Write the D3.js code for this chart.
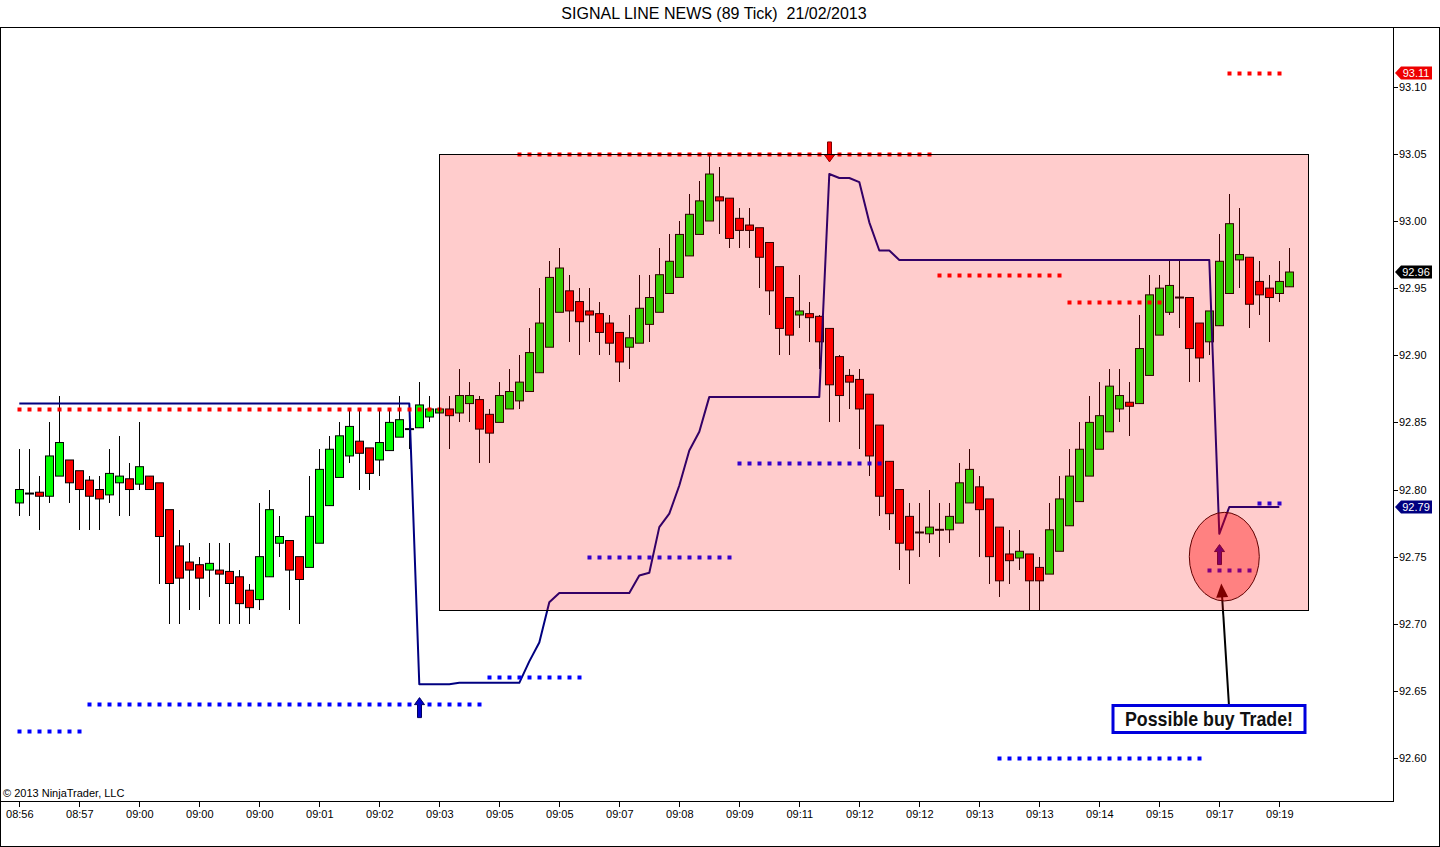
<!DOCTYPE html>
<html>
<head>
<meta charset="utf-8">
<title>SIGNAL LINE NEWS (89 Tick)</title>
<script src="https://d3js.org/d3.v7.min.js"></script>
<style>
  body { margin: 0; background: #fff; }
  svg text { font-family: Arial, "Liberation Sans", sans-serif; }
  .axis text { font-size: 11px; fill: #000; }
  .axis line, .axis path { stroke: #000; shape-rendering: crispEdges; }
</style>
</head>
<body>
<div id="chart"></div>
<script>
// time labels, one every 6 bars
const timeLabels = ["08:56","08:57","09:00","09:00","09:00","09:01","09:02","09:03","09:05","09:05","09:07",
  "09:08","09:09","09:11","09:12","09:12","09:13","09:13","09:14","09:15","09:17","09:19"];
const labelEvery = 6;

const priceTicks = [92.60, 92.65, 92.70, 92.75, 92.80, 92.85, 92.90, 92.95, 93.00, 93.05, 93.10];

// 89 tick bars, OHLC
const opens = [
  92.79, 92.797, 92.798, 92.795, 92.81, 92.822, 92.814, 92.807, 92.80, 92.796,
  92.805, 92.808, 92.804, 92.81, 92.805, 92.785, 92.758, 92.746, 92.744, 92.74,
  92.74, 92.739, 92.735, 92.725, 92.718, 92.735, 92.76, 92.762, 92.75, 92.742,
  92.76, 92.788, 92.809, 92.825, 92.836, 92.831, 92.822, 92.829, 92.839, 92.845,
  92.846, 92.854, 92.857, 92.86, 92.857, 92.864, 92.867, 92.856, 92.85, 92.86,
  92.866, 92.873, 92.887, 92.906, 92.932, 92.948, 92.94, 92.933, 92.931, 92.924,
  92.917, 92.906, 92.909, 92.923, 92.932, 92.946, 92.958, 92.974, 92.99, 93.00,
  93.018, 93.017, 93.002, 92.997, 92.995, 92.984, 92.966, 92.943, 92.93, 92.931,
  92.929, 92.92, 92.899, 92.885, 92.882, 92.871, 92.848, 92.821, 92.80, 92.78,
  92.768, 92.767, 92.77, 92.77, 92.775, 92.79, 92.802, 92.793, 92.772, 92.752,
  92.749, 92.752, 92.742, 92.737, 92.754, 92.773, 92.791, 92.81, 92.83, 92.843,
  92.86, 92.865, 92.864, 92.885, 92.915, 92.932, 92.943, 92.943, 92.924, 92.91,
  92.922, 92.946, 92.971, 92.973, 92.955, 92.95, 92.946, 92.951
];
const highs = [
  92.83, 92.83, 92.81, 92.85, 92.87, 92.822, 92.814, 92.81, 92.81, 92.83,
  92.84, 92.82, 92.85, 92.81, 92.805, 92.785, 92.77, 92.76, 92.75, 92.76,
  92.76, 92.76, 92.74, 92.73, 92.79, 92.80, 92.78, 92.762, 92.75, 92.81,
  92.83, 92.84, 92.85, 92.86, 92.86, 92.831, 92.86, 92.86, 92.87, 92.85,
  92.88, 92.87, 92.86, 92.87, 92.89, 92.88, 92.87, 92.86, 92.88, 92.89,
  92.90, 92.92, 92.95, 92.97, 92.98, 92.96, 92.95, 92.95, 92.94, 92.93,
  92.917, 92.93, 92.96, 92.96, 92.98, 92.99, 93.00, 93.02, 93.03, 93.05,
  93.04, 93.017, 93.01, 93.01, 92.995, 92.984, 92.966, 92.943, 92.96, 92.94,
  92.93, 92.92, 92.90, 92.89, 92.89, 92.871, 92.848, 92.821, 92.80, 92.79,
  92.79, 92.80, 92.79, 92.79, 92.82, 92.83, 92.81, 92.793, 92.772, 92.77,
  92.77, 92.752, 92.75, 92.79, 92.81, 92.83, 92.85, 92.87, 92.88, 92.89,
  92.89, 92.88, 92.93, 92.96, 92.96, 92.97, 92.97, 92.943, 92.924, 92.933,
  92.99, 93.02, 93.01, 92.973, 92.97, 92.96, 92.97, 92.98
];
const lows = [
  92.78, 92.78, 92.77, 92.79, 92.81, 92.79, 92.77, 92.77, 92.77, 92.79,
  92.78, 92.78, 92.80, 92.80, 92.73, 92.70, 92.70, 92.71, 92.71, 92.72,
  92.70, 92.70, 92.70, 92.70, 92.71, 92.735, 92.75, 92.71, 92.70, 92.742,
  92.76, 92.788, 92.809, 92.82, 92.80, 92.80, 92.81, 92.829, 92.839, 92.83,
  92.846, 92.85, 92.857, 92.83, 92.85, 92.85, 92.82, 92.82, 92.85, 92.86,
  92.86, 92.873, 92.887, 92.906, 92.932, 92.91, 92.90, 92.91, 92.90, 92.90,
  92.88, 92.89, 92.909, 92.91, 92.932, 92.946, 92.958, 92.974, 92.99, 93.00,
  92.99, 92.98, 92.98, 92.98, 92.95, 92.93, 92.90, 92.90, 92.92, 92.91,
  92.89, 92.85, 92.85, 92.86, 92.83, 92.81, 92.78, 92.77, 92.74, 92.73,
  92.75, 92.76, 92.75, 92.76, 92.775, 92.79, 92.75, 92.73, 92.72, 92.73,
  92.74, 92.71, 92.71, 92.737, 92.754, 92.773, 92.791, 92.81, 92.83, 92.843,
  92.85, 92.84, 92.864, 92.885, 92.915, 92.93, 92.92, 92.88, 92.88, 92.90,
  92.922, 92.946, 92.95, 92.92, 92.93, 92.91, 92.94, 92.951
];
const closes = [
  92.80, 92.797, 92.795, 92.825, 92.835, 92.805, 92.80, 92.795, 92.793, 92.812,
  92.81, 92.80, 92.817, 92.80, 92.765, 92.73, 92.734, 92.74, 92.734, 92.745,
  92.737, 92.73, 92.715, 92.712, 92.75, 92.785, 92.765, 92.74, 92.733, 92.78,
  92.815, 92.83, 92.84, 92.847, 92.827, 92.812, 92.835, 92.85, 92.852, 92.845,
  92.863, 92.86, 92.86, 92.855, 92.87, 92.87, 92.845, 92.842, 92.87, 92.873,
  92.88, 92.902, 92.924, 92.958, 92.965, 92.933, 92.925, 92.93, 92.917, 92.909,
  92.895, 92.913, 92.935, 92.943, 92.96, 92.97, 92.99, 93.005, 93.015, 93.035,
  93.015, 92.987, 92.993, 92.993, 92.973, 92.948, 92.92, 92.915, 92.933, 92.928,
  92.91, 92.878, 92.87, 92.88, 92.86, 92.825, 92.795, 92.782, 92.76, 92.755,
  92.768, 92.772, 92.77, 92.78, 92.805, 92.815, 92.785, 92.75, 92.732, 92.747,
  92.754, 92.732, 92.732, 92.77, 92.793, 92.81, 92.83, 92.85, 92.855, 92.877,
  92.87, 92.862, 92.905, 92.945, 92.95, 92.952, 92.943, 92.905, 92.898, 92.933,
  92.97, 92.998, 92.975, 92.938, 92.945, 92.943, 92.955, 92.962
];

// signal line, one value per bar (bars 0..126)
const signal = [
  92.864, 92.864, 92.864, 92.864, 92.864, 92.864, 92.864, 92.864, 92.864, 92.864,
  92.864, 92.864, 92.864, 92.864, 92.864, 92.864, 92.864, 92.864, 92.864, 92.864,
  92.864, 92.864, 92.864, 92.864, 92.864, 92.864, 92.864, 92.864, 92.864, 92.864,
  92.864, 92.864, 92.864, 92.864, 92.864, 92.864, 92.864, 92.864, 92.864, 92.864,
  92.655, 92.655, 92.655, 92.655, 92.656, 92.656, 92.656, 92.656, 92.656, 92.656,
  92.656, 92.672, 92.686, 92.716, 92.723, 92.723, 92.723, 92.723, 92.723, 92.723,
  92.723, 92.723, 92.736, 92.738, 92.772, 92.782, 92.803, 92.829, 92.843, 92.869,
  92.869, 92.869, 92.869, 92.869, 92.869, 92.869, 92.869, 92.869, 92.869, 92.869,
  92.869, 93.035, 93.032, 93.032, 93.029, 92.999, 92.978, 92.978, 92.971, 92.971,
  92.971, 92.971, 92.971, 92.971, 92.971, 92.971, 92.971, 92.971, 92.971, 92.971,
  92.971, 92.971, 92.971, 92.971, 92.971, 92.971, 92.971, 92.971, 92.971, 92.971,
  92.971, 92.971, 92.971, 92.971, 92.971, 92.971, 92.971, 92.971, 92.971, 92.971,
  92.767, 92.787, 92.787, 92.787, 92.787, 92.787, 92.787
];

// dotted levels: [first bar, last bar, price]
const resistanceLevels = [[0, 42, 92.86], [50, 91, 93.05], [92, 104, 92.96], [105, 114, 92.94], [121, 126, 93.11]];
const supportLevels = [[0, 6, 92.62], [7, 46, 92.64], [47, 56, 92.66], [57, 71, 92.75], [72, 86, 92.82],
  [98, 118, 92.60], [119, 123, 92.74], [124, 126, 92.79]];

// signal arrows: [bar, tip price]
const sellArrows = [[81, 93.044]];
const buyArrows = [[40, 92.645], [120, 92.759]];

// drawn objects, in bar / price units
const zone = {bar0: 42, bar1: 128.9, hi: 93.05, lo: 92.71};
const circle = {bar0: 117, bar1: 124, hi: 92.783, lo: 92.717};
const note = {text: "Possible buy Trade!", tailBar: 120.97, tailPrice: 92.639, tipBar: 120.2, tipPrice: 92.73};

const W = 1440, H = 847;
const plot = {left: 1, right: 1393, top: 27, bottom: 801};

const svg = d3.select("#chart").append("svg")
  .attr("width", W).attr("height", H);

const x = d3.scaleLinear().domain([0, 127]).range([19.3, 1289.3]);
const y = d3.scaleLinear().domain([92.568, 93.1445]).range([plot.bottom, plot.top]);
const px = i => Math.round(x(i)) + 0.5;

// title
svg.append("text")
  .attr("x", 714).attr("y", 19)
  .attr("text-anchor", "middle")
  .style("font-size", "16px")
  .style("white-space", "pre")
  .text("SIGNAL LINE NEWS (89 Tick)  21/02/2013");

svg.append("defs").append("clipPath").attr("id", "plotclip")
  .append("rect")
  .attr("x", plot.left).attr("y", plot.top)
  .attr("width", plot.right - plot.left).attr("height", plot.bottom - plot.top);

const g = svg.append("g").attr("clip-path", "url(#plotclip)");

// candles
const bars = d3.range(opens.length).map(i => ({i, o: opens[i], h: highs[i], l: lows[i], c: closes[i]}));

g.selectAll(".wick").data(bars).enter().append("line")
  .attr("x1", d => px(d.i)).attr("x2", d => px(d.i))
  .attr("y1", d => y(d.h)).attr("y2", d => y(d.l))
  .attr("stroke", "#000").attr("stroke-width", 1)
  .style("shape-rendering", "crispEdges");

g.selectAll(".body").data(bars.filter(d => d.o !== d.c)).enter().append("rect")
  .attr("x", d => Math.round(x(d.i)) - 4 + 0.5)
  .attr("y", d => y(Math.max(d.o, d.c)))
  .attr("width", 8)
  .attr("height", d => Math.max(1, y(Math.min(d.o, d.c)) - y(Math.max(d.o, d.c))))
  .attr("fill", d => d.c > d.o ? "#00ff00" : "#ff0000")
  .attr("stroke", "#000").attr("stroke-width", 1);

g.selectAll(".doji").data(bars.filter(d => d.o === d.c)).enter().append("line")
  .attr("x1", d => Math.round(x(d.i)) - 4).attr("x2", d => Math.round(x(d.i)) + 5)
  .attr("y1", d => y(d.c)).attr("y2", d => y(d.c))
  .attr("stroke", "#000").attr("stroke-width", 2);

// signal line
g.append("path")
  .datum(signal)
  .attr("fill", "none")
  .attr("stroke", "#000080")
  .attr("stroke-width", 2)
  .attr("stroke-linejoin", "round")
  .attr("d", d3.line().x((d, i) => x(i)).y(d => y(d)));

// dotted levels
function drawLevels(levels, colour) {
  levels.forEach(([b0, b1, p]) => {
    g.selectAll(null).data(d3.range(b0, b1 + 1)).enter().append("rect")
      .attr("x", i => Math.round(x(i)) - 1.5)
      .attr("y", Math.round(y(p)) - 1.5)
      .attr("width", 4).attr("height", 4)
      .attr("fill", colour);
  });
}
drawLevels(resistanceLevels, "#ff0000");
drawLevels(supportLevels, "#0000ff");

// arrows
function arrow(bar, price, dir, fill, stroke) {
  const cx = Math.round(x(bar)) + 0.5, ty = y(price);
  const s = dir; // -1 = pointing up, +1 = pointing down
  const pts = [[0, 0], [5, -7 * s], [2, -7 * s], [2, -20 * s], [-2, -20 * s], [-2, -7 * s], [-5, -7 * s]];
  g.append("path")
    .attr("d", "M" + pts.map(p => [cx + p[0], ty + p[1]].join(",")).join("L") + "Z")
    .attr("fill", fill).attr("stroke", stroke).attr("stroke-width", 1);
}
sellArrows.forEach(([b, p]) => arrow(b, p, 1, "#ff0000", "#800000"));
buyArrows.forEach(([b, p]) => arrow(b, p, -1, "#0000cc", "#000060"));

// pointer from the note to the circle
const tx = x(note.tailBar), tyy = y(note.tailPrice), hx = x(note.tipBar), hy = y(note.tipPrice);
const ang = Math.atan2(hy - tyy, hx - tx);
g.append("line")
  .attr("x1", tx).attr("y1", tyy)
  .attr("x2", hx - 12 * Math.cos(ang)).attr("y2", hy - 12 * Math.sin(ang))
  .attr("stroke", "#000").attr("stroke-width", 2);
const hl = 14, hw = 6;
const bx = hx - hl * Math.cos(ang), by = hy - hl * Math.sin(ang);
g.append("path")
  .attr("d", `M${hx},${hy}L${bx + hw * Math.sin(ang)},${by - hw * Math.cos(ang)}L${bx - hw * Math.sin(ang)},${by + hw * Math.cos(ang)}Z`)
  .attr("fill", "#000");

// trade zone, translucent red over the bars
g.append("rect")
  .attr("x", Math.round(x(zone.bar0)) + 0.5)
  .attr("y", Math.round(y(zone.hi)) + 0.5)
  .attr("width", Math.round(x(zone.bar1) - x(zone.bar0)))
  .attr("height", Math.round(y(zone.lo) - y(zone.hi)))
  .attr("fill", "#ff0000").attr("fill-opacity", 0.2)
  .attr("stroke", "#000").attr("stroke-width", 1);

g.append("ellipse")
  .attr("cx", (x(circle.bar0) + x(circle.bar1)) / 2)
  .attr("cy", (y(circle.hi) + y(circle.lo)) / 2)
  .attr("rx", (x(circle.bar1) - x(circle.bar0)) / 2)
  .attr("ry", (y(circle.lo) - y(circle.hi)) / 2)
  .attr("fill", "#ff0000").attr("fill-opacity", 0.37)
  .attr("stroke", "#600000").attr("stroke-width", 1);

// note box
const nb = svg.append("g");
nb.append("rect")
  .attr("x", 1113).attr("y", 705.5)
  .attr("width", 192).attr("height", 27)
  .attr("fill", "#fff").attr("stroke", "#0000dd").attr("stroke-width", 3);
nb.append("text")
  .attr("x", 1209).attr("y", 726)
  .attr("text-anchor", "middle")
  .attr("textLength", 168).attr("lengthAdjust", "spacingAndGlyphs")
  .style("font-family", "'Liberation Sans Narrow', 'Arial Narrow', Arial, sans-serif")
  .style("font-size", "21px").style("font-weight", "bold")
  .style("fill", "#111")
  .text(note.text);

// axes
svg.append("g").attr("class", "axis")
  .attr("transform", `translate(${plot.right},0)`)
  .call(d3.axisRight(y).tickValues(priceTicks).tickFormat(d3.format(".2f")).tickSize(5).tickSizeOuter(0).tickPadding(1));

svg.append("g").attr("class", "axis")
  .attr("transform", `translate(0,${plot.bottom})`)
  .call(d3.axisBottom(x).tickValues(timeLabels.map((t, k) => k * labelEvery))
    .tickFormat((d, k) => timeLabels[k]).tickSize(6).tickSizeOuter(0).tickPadding(3))
  .call(a => a.select(".domain").remove());

// frame
const frame = svg.append("g").attr("stroke", "#000").attr("stroke-width", 1).style("shape-rendering", "crispEdges");
frame.append("rect").attr("x", 0.5).attr("y", plot.top + 0.5).attr("width", W - 1.5).attr("height", H - plot.top - 1.5).attr("fill", "none");
frame.append("line").attr("x1", 0).attr("x2", plot.right).attr("y1", plot.bottom + 0.5).attr("y2", plot.bottom + 0.5);

svg.append("text")
  .attr("x", 3).attr("y", 797)
  .style("font-size", "11px")
  .text("\u00a9 2013 NinjaTrader, LLC");

// price tags on the right axis
const tags = [
  {v: resistanceLevels[resistanceLevels.length - 1][2], fill: "#ee0000"},
  {v: closes[closes.length - 1], fill: "#000"},
  {v: signal[signal.length - 1], fill: "#000080"}
];
const tg = svg.append("g").selectAll("g").data(tags).enter().append("g")
  .attr("transform", d => `translate(1395,${Math.round(y(d.v))})`);
tg.append("path")
  .attr("d", "M0,0L6,-6.5L37,-6.5L37,6.5L6,6.5Z")
  .attr("fill", d => d.fill);
tg.append("text")
  .attr("x", 21).attr("y", 4)
  .attr("text-anchor", "middle")
  .style("font-size", "11px").style("fill", "#fff")
  .text(d => d3.format(".2f")(d.v));
</script>
</body>
</html>
